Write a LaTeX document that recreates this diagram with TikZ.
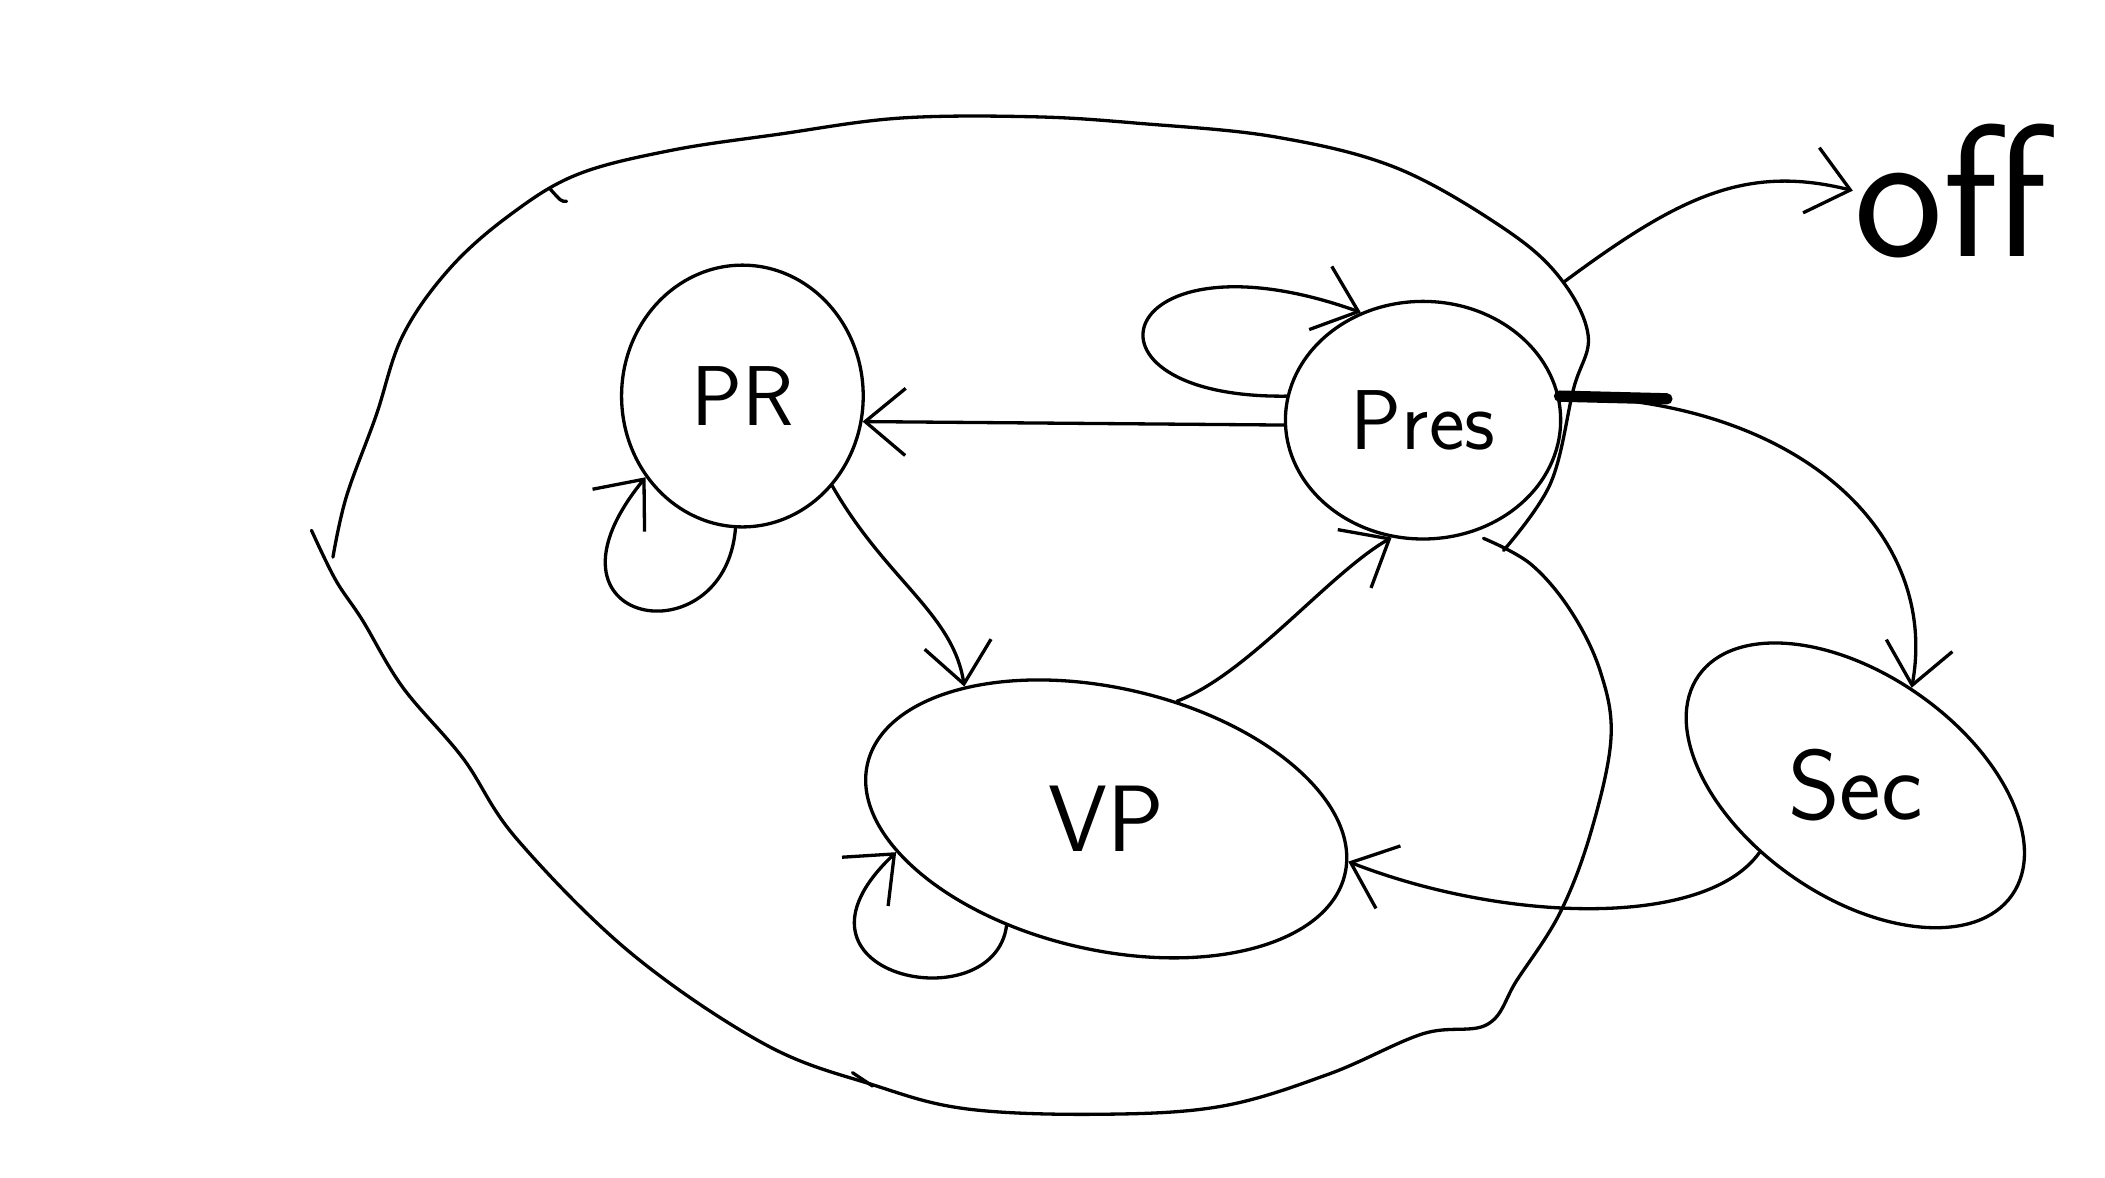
\documentclass[tikz,border=0pt]{standalone}
\usepackage{tikz}
\usetikzlibrary{shapes.geometric,arrows.meta}

\begin{document}
\begin{tikzpicture}[line width=0.7pt,line cap=round,
    state/.style={ellipse,draw,inner sep=0pt,font=\sffamily\fontsize{18}{20}\selectfont},
    arr/.style={-{Straight Barb[length=3mm,width=5mm]}}]
    \useasboundingbox (0,0) rectangle (15.68,8.77);
    % states
    \node at (5.53,5.82) [state,minimum width=1.8cm,minimum height=1.95cm] (pr) {PR};
    \node at (10.60,5.64) [state,minimum width=2.05cm,minimum height=1.77cm] (pres) {Pres};
    \node at (8.24,2.67) [state,rotate=-13,minimum width=3.65cm,minimum height=1.95cm] (vp) {\rotatebox{13}{\fontsize{20}{22}\selectfont VP}};
    \node at (13.82,2.92) [state,rotate=-35,minimum width=2.85cm,minimum height=1.65cm] (sec) {\rotatebox{35}{\fontsize{21}{23}\selectfont Sec}};
    \node at (14.53,7.35) [inner sep=0pt,font=\sffamily\fontsize{40}{44}\selectfont] (off) {off};
    % outer region, upper and lower half
    \draw plot[smooth,tension=0.6] coordinates {(11.20,4.67) (11.55,5.17) (11.72,5.87) (11.83,6.27)
        (11.62,6.70) (11.20,7.07) (10.40,7.52) (9.50,7.75) (8.50,7.85) (7.70,7.90) (6.70,7.89)
        (5.80,7.77) (5.00,7.65) (4.30,7.47) (3.80,7.17) (3.35,6.77) (3.00,6.27) (2.80,5.67)
        (2.58,5.07) (2.48,4.62)};
    \draw plot[smooth,tension=0.6] coordinates {(2.32,4.82) (2.50,4.45) (2.70,4.15) (3.00,3.65)
        (3.45,3.12) (3.85,2.52) (4.70,1.67) (5.70,0.99) (6.50,0.69) (7.20,0.51) (8.20,0.47)
        (9.10,0.53) (9.90,0.77) (10.60,1.07) (11.08,1.14) (11.30,1.47) (11.62,1.97) (11.85,2.57)
        (12.00,3.27) (11.92,3.77) (11.70,4.22) (11.40,4.57) (11.05,4.76)};
    \draw (4.10,7.36) .. controls (4.18,7.27) .. (4.22,7.27);
    \draw (6.35,0.78) -- (6.50,0.68);
    \coordinate (rim) at (11.65,6.67);
    % transitions
    \draw[arr] (pres.182) -- (pr.-12);
    \draw[arr] (pr.-93) .. controls (5.4,3.85) and (3.9,4.1) .. (pr.220);
    \draw[arr] (pr.-45) .. controls (6.6,4.45) and (7.1,4.2) .. (vp.150);
    \draw[arr] (vp.72) .. controls (9.3,3.75) and (9.9,4.5) .. (pres.-105);
    \draw[arr] (vp.240) .. controls (7.4,1.15) and (5.7,1.5) .. (vp.202);
    \draw[arr] (pres.170) .. controls (7.9,5.8) and (8.3,7.1) .. (pres.120);
    \draw[arr] (pres.10) .. controls (13.4,5.8) and (14.45,4.8) .. (sec.95);
    \draw[line width=2.4pt] (pres.10) -- ++(0.8,-0.02);
    \draw[arr] (sec.250) .. controls (12.7,1.85) and (11.2,1.9) .. (vp.3);
    \draw[arr] (rim) .. controls (12.5,7.3) and (13.0,7.55) .. (off.west);
\end{tikzpicture}
\end{document}
